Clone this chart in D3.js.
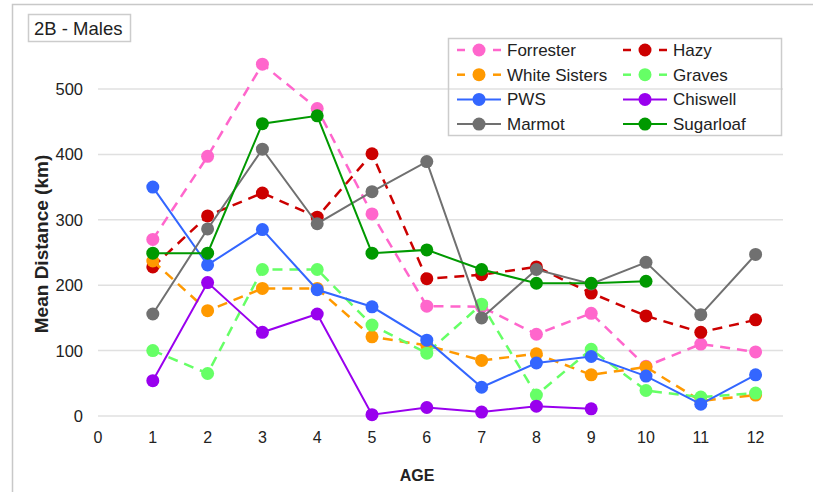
<!DOCTYPE html>
<html>
<head>
<meta charset="utf-8">
<script src="https://cdn.jsdelivr.net/npm/d3@7"></script>
<style>
  body { margin: 0; background: #fff; }
  text { font-family: "Liberation Sans", Arial, sans-serif; fill: #222; }
</style>
</head>
<body>
<div id="chart"></div>
<script>
// ages on the x axis
var ages = [1, 2, 3, 4, 5, 6, 7, 8, 9, 10, 11, 12];
var yTicks = [0, 100, 200, 300, 400, 500];
var xTicks = [0, 1, 2, 3, 4, 5, 6, 7, 8, 9, 10, 11, 12];

// mean distance (km) per age, one array per site
var forrester    = [270, 397, 538, 470, 309, 168, 167, 125, 157, 76, 110, 98];
var hazy         = [228, 306, 341, 304, 401, 210, 216, 228, 188, 153, 128, 147];
var whiteSisters = [237, 161, 195, 195, 121, 108, 85, 95, 63, 75, 23, 32];
var graves       = [100, 65, 224, 224, 139, 96, 171, 32, 102, 39, 29, 35];
var pws          = [350, 231, 285, 193, 167, 116, 44, 81, 91, 61, 18, 63];
var chiswell     = [54, 204, 128, 156, 2, 13, 6, 15, 11];
var marmot       = [156, 286, 408, 294, 343, 389, 150, 224, 202, 235, 155, 247];
var sugarloaf    = [249, 249, 447, 459, 249, 254, 224, 203, 203, 206];

var series = [
  { name: "Forrester", values: forrester, color: "#ff66cc", dash: true },
  { name: "Hazy", values: hazy, color: "#cc0000", dash: true },
  { name: "White Sisters", values: whiteSisters, color: "#ff9900", dash: true },
  { name: "Graves", values: graves, color: "#66ff66", dash: true },
  { name: "PWS", values: pws, color: "#3366ff", dash: false },
  { name: "Chiswell", values: chiswell, color: "#9900ee", dash: false },
  { name: "Marmot", values: marmot, color: "#707070", dash: false },
  { name: "Sugarloaf", values: sugarloaf, color: "#009900", dash: false }
];

var W = 813, H = 492;
var svg = d3.select("#chart").append("svg").attr("width", W).attr("height", H);

// outer frame
svg.append("rect").attr("x", 12.5).attr("y", 4.5).attr("width", 900).attr("height", 600)
  .attr("fill", "none").attr("stroke", "#c8c8c8").attr("stroke-width", 1.5);

var x = d3.scaleLinear().domain([0, 12.5]).range([98, 783]);
var y = d3.scaleLinear().domain([0, 500]).range([416, 89]);

// gridlines
svg.append("g").selectAll("line").data(yTicks).enter().append("line")
  .attr("x1", x(0)).attr("x2", x(12.5))
  .attr("y1", d => y(d)).attr("y2", d => y(d))
  .attr("stroke", "#e0e0e0").attr("stroke-width", 1.5);

// y tick labels
svg.append("g").selectAll("text").data(yTicks).enter().append("text")
  .attr("x", 83).attr("y", d => y(d) + 6)
  .attr("text-anchor", "end").style("font-size", "16.5px")
  .text(d => d);

// x tick labels
svg.append("g").selectAll("text").data(xTicks).enter().append("text")
  .attr("x", d => x(d)).attr("y", 443)
  .attr("text-anchor", "middle").style("font-size", "16px")
  .text(d => d);

// axis titles
svg.append("text").attr("x", 417).attr("y", 481).attr("text-anchor", "middle")
  .style("font-size", "16px").style("font-weight", "bold").text("AGE");
svg.append("text").attr("transform", "translate(48,244) rotate(-90)").attr("text-anchor", "middle")
  .style("font-size", "19px").style("font-weight", "bold").text("Mean Distance (km)");

// title box
svg.append("rect").attr("x", 28.5).attr("y", 14.5).attr("width", 102).attr("height", 27)
  .attr("fill", "#fff").attr("stroke", "#cccccc").attr("stroke-width", 1.5);
svg.append("text").attr("x", 34).attr("y", 35).style("font-size", "18.5px").text("2B - Males");

// lines + markers, in legend order
var line = d3.line().x((d, i) => x(ages[i])).y(d => y(d));

series.forEach(function(s) {
  var g = svg.append("g");
  g.append("path").datum(s.values)
    .attr("d", line)
    .attr("fill", "none")
    .attr("stroke", s.color)
    .attr("stroke-width", s.dash ? 2.5 : 2)
    .attr("stroke-dasharray", s.dash ? "10,7" : null);
  g.selectAll("circle").data(s.values).enter().append("circle")
    .attr("cx", (d, i) => x(ages[i]))
    .attr("cy", d => y(d))
    .attr("r", 6.5)
    .attr("fill", s.color);
});

// legend
var legend = svg.append("g");
legend.append("rect").attr("x", 448.5).attr("y", 38.5).attr("width", 333).attr("height", 97)
  .attr("fill", "none").attr("stroke", "#cccccc").attr("stroke-width", 1.5);

series.forEach(function(s, i) {
  var col = i % 2, row = Math.floor(i / 2);
  var lx = col === 0 ? 457 : 623;
  var ly = 50 + row * 24.7;
  var item = legend.append("g");
  if (s.dash) {
    item.append("line").attr("x1", lx).attr("x2", lx + 8).attr("y1", ly).attr("y2", ly)
      .attr("stroke", s.color).attr("stroke-width", 2.5);
    item.append("line").attr("x1", lx + 36).attr("x2", lx + 44).attr("y1", ly).attr("y2", ly)
      .attr("stroke", s.color).attr("stroke-width", 2.5);
  } else {
    item.append("line").attr("x1", lx).attr("x2", lx + 44).attr("y1", ly).attr("y2", ly)
      .attr("stroke", s.color).attr("stroke-width", 2);
  }
  item.append("circle").attr("cx", lx + 22).attr("cy", ly).attr("r", 6.5).attr("fill", s.color);
  item.append("text").attr("x", lx + 50).attr("y", ly + 6).style("font-size", "17px").text(s.name);
});
</script>
</body>
</html>
